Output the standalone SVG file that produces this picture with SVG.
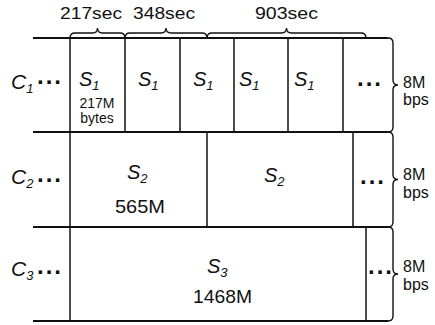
<svg xmlns="http://www.w3.org/2000/svg" width="435" height="325" viewBox="0 0 435 325">
<style>
text{font-family:"Liberation Sans",Arial,sans-serif;fill:#111}
.ln{stroke:#111;stroke-width:1.5;fill:none}
.hl{stroke:#111;stroke-width:2;fill:none}
.br{stroke:#111;stroke-width:1.4;fill:none}
.sec{font-size:17px}
.s{font-size:20px;font-style:italic}
.sub{font-size:13px}
.c{font-size:21px;font-style:italic}
.dots{font-size:24px;font-weight:bold;letter-spacing:2px}
.sm{font-size:14px;text-anchor:middle}
.md{font-size:19px}
.bw{font-size:16px}
</style>
<rect width="435" height="325" fill="#fff"/>
<g id="connectors">
<path class="hl" d="M33,38 H388 M33,132 H388 M33,227 H388 M33,321 H388"/>
<path class="ln" d="M70,38 V321 M125,38 V132 M180,38 V132 M234,38 V132 M288,38 V132 M343,38 V132 M207,132 V227 M353,132 V227 M366,227 V321"/>
<path class="br" d="M70,38 q0,-5 5,-5 H92.5 q5,0 5,-5 q0,5 5,5 H120 q5,0 5,5"/>
<path class="br" d="M125,38 q0,-5 5,-5 H161 q5,0 5,-5 q0,5 5,5 H202 q5,0 5,5"/>
<path class="br" d="M207,38 q0,-5 5,-5 H281.5 q5,0 5,-5 q0,5 5,5 H361 q5,0 5,5"/>
<path class="br" d="M388,38 q5,0 5,5 V80 q0,5 5,5 q-5,0 -5,5 V127 q0,5 -5,5"/>
<path class="br" d="M388,132 q5,0 5,5 V174.5 q0,5 5,5 q-5,0 -5,5 V222 q0,5 -5,5"/>
<path class="br" d="M388,227 q5,0 5,5 V269 q0,5 5,5 q-5,0 -5,5 V316 q0,5 -5,5"/>
</g>
<g id="durations">
<text class="sec" x="60" y="19" textLength="62" lengthAdjust="spacingAndGlyphs">217sec</text>
<text class="sec" x="133" y="19" textLength="62" lengthAdjust="spacingAndGlyphs">348sec</text>
<text class="sec" x="255" y="19" textLength="63" lengthAdjust="spacingAndGlyphs">903sec</text>
</g>
<g id="row1">
<text class="c" x="11" y="89">C<tspan class="sub" dy="4">1</tspan></text>
<text class="dots" x="37" y="84">...</text>
<text class="s" x="79" y="86">S<tspan class="sub" dy="4">1</tspan></text>
<text class="sm" x="97" y="108">217M</text>
<text class="sm" x="97" y="123">bytes</text>
<text class="s" x="138" y="86">S<tspan class="sub" dy="4">1</tspan></text>
<text class="s" x="193" y="86">S<tspan class="sub" dy="4">1</tspan></text>
<text class="s" x="239" y="86">S<tspan class="sub" dy="4">1</tspan></text>
<text class="s" x="294" y="86">S<tspan class="sub" dy="4">1</tspan></text>
<text class="dots" x="357" y="86">...</text>
<text class="bw" x="403" y="88">8M</text>
<text class="bw" x="403" y="105">bps</text>
</g>
<g id="row2">
<text class="c" x="11" y="184">C<tspan class="sub" dy="4">2</tspan></text>
<text class="dots" x="37" y="182">...</text>
<text class="s" x="127" y="179">S<tspan class="sub" dy="4">2</tspan></text>
<text class="md" x="115" y="213" textLength="50" lengthAdjust="spacingAndGlyphs">565M</text>
<text class="s" x="264" y="182">S<tspan class="sub" dy="4">2</tspan></text>
<text class="dots" x="360" y="184">...</text>
<text class="bw" x="403" y="180">8M</text>
<text class="bw" x="403" y="198">bps</text>
</g>
<g id="row3">
<text class="c" x="11" y="276">C<tspan class="sub" dy="4">3</tspan></text>
<text class="dots" x="37" y="274">...</text>
<text class="s" x="207" y="273">S<tspan class="sub" dy="4">3</tspan></text>
<text class="md" x="193" y="303" textLength="59" lengthAdjust="spacingAndGlyphs">1468M</text>
<text class="dots" x="368" y="274">...</text>
<text class="bw" x="403" y="272">8M</text>
<text class="bw" x="403" y="290">bps</text>
</g>
</svg>
